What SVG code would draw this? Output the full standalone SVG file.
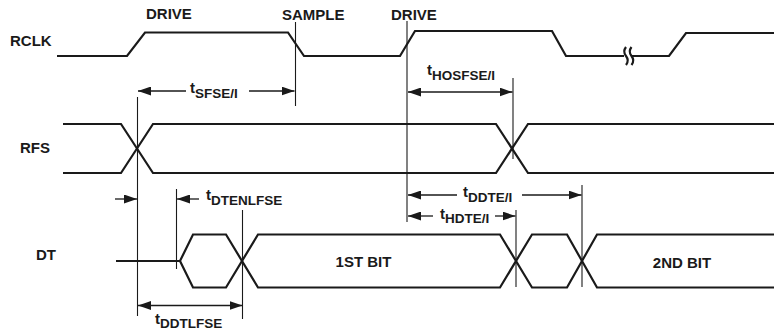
<svg xmlns="http://www.w3.org/2000/svg" width="774" height="334" viewBox="0 0 774 334">
<style>
text{font-family:"Liberation Sans",Arial,sans-serif;font-weight:bold;fill:#1a1a1a}
.lbl{font-size:15px}
.sub{font-size:13.5px}
.wave{fill:none;stroke:#1a1a1a;stroke-width:2.2;stroke-linejoin:miter}
.ref{fill:none;stroke:#1a1a1a;stroke-width:1.1}
.dim{fill:none;stroke:#1a1a1a;stroke-width:1.3}
</style>
<defs>
<marker id="ah" markerUnits="userSpaceOnUse" markerWidth="13" markerHeight="9" refX="13" refY="4.5" orient="auto-start-reverse">
<path d="M0,0 L13,4.5 L0,9 Z" fill="#1a1a1a"/>
</marker>
</defs>
<rect width="774" height="334" fill="#fff"/>

<g id="rclk">
<text class="lbl" x="10" y="46">RCLK</text>
<text class="lbl" x="146" y="19">DRIVE</text>
<text class="lbl" x="282" y="20">SAMPLE</text>
<text class="lbl" x="391" y="20">DRIVE</text>
<path class="wave" d="M57,56 L127,56 L145,32.5 L288,32.5 L304,56 L400,56 L415,31 L552,31 L566,56 L624,56"/>
<path class="wave" d="M632,56 L669,56 L686,33 L774,33"/>
<path class="wave" stroke-width="1.6" d="M626,47 q-3.5,4.5 0,9 q3.5,4.5 0,9"/>
<path class="wave" stroke-width="1.6" d="M631.5,47 q-3.5,4.5 0,9 q3.5,4.5 0,9"/>
</g>

<g id="rfs">
<text class="lbl" x="20" y="153">RFS</text>
<path class="wave" d="M63,124 L121,124 L153,173 L496,173 L528,124 L774,124"/>
<path class="wave" d="M63,173 L121,173 L153,124 L496,124 L528,173 L774,173"/>
</g>

<g id="dt">
<text class="lbl" x="36" y="260">DT</text>
<path class="wave" d="M116,261 L180,261 L193,234.5 L226,234.5 L258,287.5 L500,287.5 L532,234.5 L567,234.5 L597,287.5 L774,287.5"/>
<path class="wave" d="M180,261 L193,287.5 L226,287.5 L258,234.5 L500,234.5 L532,287.5 L567,287.5 L597,234.5 L774,234.5"/>
<text class="lbl" x="363.5" y="267" text-anchor="middle">1ST BIT</text>
<text class="lbl" x="682" y="268" text-anchor="middle">2ND BIT</text>
</g>

<g id="connectors">
<line class="ref" x1="137.5" y1="97" x2="137.5" y2="316"/>
<line class="ref" x1="295.5" y1="22" x2="295.5" y2="106"/>
<line class="ref" x1="407" y1="21" x2="407" y2="222"/>
<line class="ref" x1="513" y1="78" x2="513" y2="159"/>
<line class="ref" x1="516" y1="210" x2="516" y2="287"/>
<line class="ref" x1="582" y1="185" x2="582" y2="287"/>
<line class="ref" x1="176.5" y1="189" x2="176.5" y2="269"/>
<line class="ref" x1="242.5" y1="210" x2="242.5" y2="319"/>

<line class="dim" x1="186" y1="91" x2="138" y2="91" marker-end="url(#ah)"/>
<line class="dim" x1="249" y1="91" x2="294.5" y2="91" marker-end="url(#ah)"/>
<text class="lbl" x="190" y="93">t<tspan class="sub" dy="5">SFSE/I</tspan></text>

<line class="dim" x1="408" y1="92" x2="512.5" y2="92" marker-start="url(#ah)" marker-end="url(#ah)"/>
<text class="lbl" x="427" y="75">t<tspan class="sub" dy="4.5">HOSFSE/I</tspan></text>

<line class="dim" x1="115" y1="199" x2="137" y2="199" marker-end="url(#ah)"/>
<line class="dim" x1="199" y1="199" x2="177" y2="199" marker-end="url(#ah)"/>
<text class="lbl" x="206" y="200">t<tspan class="sub" dy="5">DTENLFSE</tspan></text>

<line class="dim" x1="457" y1="195" x2="408" y2="195" marker-end="url(#ah)"/>
<line class="dim" x1="522" y1="195" x2="581.5" y2="195" marker-end="url(#ah)"/>
<text class="lbl" x="463" y="197">t<tspan class="sub" dy="4.5">DDTE/I</tspan></text>

<line class="dim" x1="433" y1="216" x2="408" y2="216" marker-end="url(#ah)"/>
<line class="dim" x1="495" y1="216" x2="515.5" y2="216" marker-end="url(#ah)"/>
<text class="lbl" x="440" y="219">t<tspan class="sub" dy="4">HDTE/I</tspan></text>

<line class="dim" x1="138" y1="305.5" x2="242.5" y2="305.5" marker-start="url(#ah)" marker-end="url(#ah)"/>
<text class="lbl" x="155" y="324">t<tspan class="sub" dy="4">DDTLFSE</tspan></text>
</g>
</svg>
